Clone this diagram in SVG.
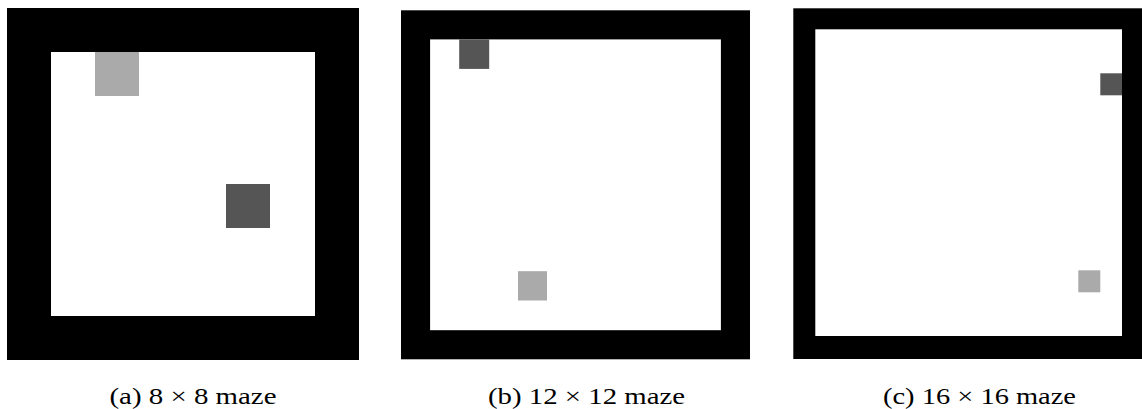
<svg xmlns="http://www.w3.org/2000/svg" width="1142" height="409" viewBox="0 0 1142 409">
<style>
.wall{fill:#000}
.floor{fill:#fff}
.light{fill:#aaaaaa}
.dark{fill:#555555}
.cap{font-family:"Liberation Serif","DejaVu Serif",serif;font-size:23px;fill:#000;text-anchor:middle}
</style>
<rect width="1142" height="409" fill="#fff"/>
<g id="maze-a">
<rect class="wall" x="7" y="8" width="352" height="352"/>
<rect class="floor" x="51" y="52" width="264" height="264"/>
<rect class="light" x="95" y="52" width="44" height="44"/>
<rect class="dark" x="226" y="184" width="44" height="44"/>
<text class="cap" x="193" y="404" textLength="167" lengthAdjust="spacingAndGlyphs">(a) 8 × 8 maze</text>
</g>
<g id="maze-b">
<rect class="wall" x="401" y="10.3" width="349" height="349"/>
<rect class="floor" x="430.1" y="39.4" width="290.8" height="290.8"/>
<rect class="dark" x="459.2" y="39.4" width="30" height="29.5"/>
<rect class="light" x="518" y="271.2" width="29" height="29.3"/>
<text class="cap" x="586.5" y="404" textLength="197" lengthAdjust="spacingAndGlyphs">(b) 12 × 12 maze</text>
</g>
<g id="maze-c">
<rect class="wall" x="793.3" y="8.3" width="350.7" height="350.7"/>
<rect class="floor" x="815.3" y="29.3" width="306.7" height="306.7"/>
<rect class="dark" x="1100.3" y="73.3" width="21.7" height="22"/>
<rect class="light" x="1078.3" y="270.3" width="22" height="22"/>
<text class="cap" x="979.5" y="404" textLength="193" lengthAdjust="spacingAndGlyphs">(c) 16 × 16 maze</text>
</g>
</svg>
